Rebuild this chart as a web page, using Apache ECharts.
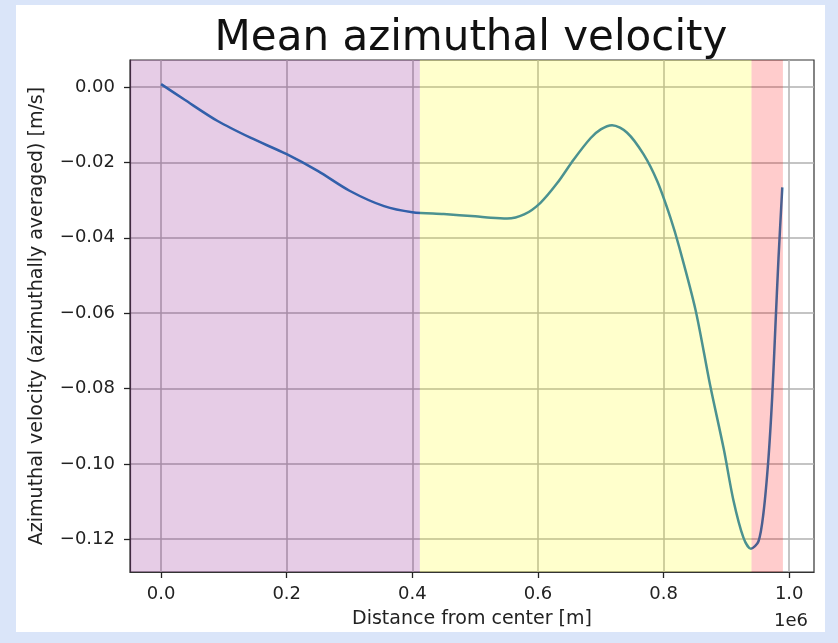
<!DOCTYPE html>
<html>
<head>
<meta charset="utf-8">
<script src="https://cdn.jsdelivr.net/npm/echarts@6/dist/echarts.min.js"></script>
<style>
  html, body { margin: 0; padding: 0; background: #dae5f9; }
  #panel { position: absolute; left: 16px; top: 5px; width: 809px; height: 627px; background: #fff; }
  #main { position: absolute; left: 0; top: 0; width: 838px; height: 643px; }
</style>
</head>
<body>
<div id="panel"></div>
<div id="main"></div>
<script>
// distance from center, in units of 1e6 m
var dist = [0.000, 0.037, 0.090, 0.143, 0.200, 0.250, 0.300, 0.355, 0.400, 0.450,
            0.500, 0.525, 0.551, 0.578, 0.604, 0.631, 0.657, 0.684, 0.700, 0.718,
            0.742, 0.768, 0.790, 0.811, 0.825, 0.851, 0.874, 0.896, 0.911, 0.927,
            0.939, 0.951, 0.959, 0.967, 0.973, 0.978, 0.983, 0.989];
// mean azimuthal velocity [m/s]
var vel = [0.0008, -0.0033, -0.0090, -0.0135, -0.0178, -0.0223, -0.0275, -0.0316, -0.0332, -0.0337,
           -0.0343, -0.0347, -0.0349, -0.0338, -0.0307, -0.0254, -0.0192, -0.0135, -0.0112, -0.0101,
           -0.0121, -0.0178, -0.0250, -0.0347, -0.0425, -0.0592, -0.0790, -0.0962, -0.1095, -0.1195,
           -0.1225, -0.1206, -0.1131, -0.0985, -0.0821, -0.0637, -0.0454, -0.0266];

var xTicks = [0.0, 0.2, 0.4, 0.6, 0.8, 1.0];
var yTicks = [0.00, -0.02, -0.04, -0.06, -0.08, -0.10, -0.12];

// shaded regions
var bandEdges = [-0.0495, 0.412, 0.94, 0.99];
var bandColors = ['rgba(128,0,128,0.2)', 'rgba(255,255,0,0.2)', 'rgba(255,0,0,0.2)'];

var myChart = echarts.init(document.getElementById('main'));

var lineData = dist.map(function(d, i){ return [d, vel[i]]; });
var areas = [];
for (var i = 0; i < bandColors.length; i++) {
    areas.push([{xAxis: bandEdges[i], itemStyle: {color: bandColors[i]}}, {xAxis: bandEdges[i + 1]}]);
}

function minus(s){ return s.replace('-', '\u2212'); }

var txt = '#222';
var option = {
    animation: false,
    backgroundColor: 'transparent',
    textStyle: {fontFamily: 'DejaVu Sans'},
    grid: {
        left: 130, right: 24, top: 60, bottom: 71,
        show: true, borderColor: '#333', borderWidth: 1.2,
        backgroundColor: '#fff'
    },
    graphic: [
        {type: 'text', x: 471, y: 39, style: {text: 'Mean azimuthal velocity', align: 'center', verticalAlign: 'middle',
            font: '42px "DejaVu Sans"', fill: '#111'}},
        {type: 'text', x: 791, y: 621, style: {text: '1e6', align: 'center', verticalAlign: 'middle',
            font: '18px "DejaVu Sans"', fill: txt}}
    ],
    xAxis: {
        type: 'value', min: -0.0495, max: 1.0395,
        name: 'Distance from center [m]', nameLocation: 'middle', nameGap: 38,
        nameTextStyle: {fontSize: 19, color: txt},
        axisLine: {show: true, onZero: false, lineStyle: {color: '#333', width: 1.2}},
        axisTick: {show: true, customValues: xTicks, length: 6, lineStyle: {color: txt, width: 1.3}},
        axisLabel: {customValues: xTicks, fontSize: 18, color: txt, margin: 13,
            formatter: function(v){ return minus(v.toFixed(1)); }},
        splitLine: {show: true, lineStyle: {color: '#b0b0b0', width: 1.5}}
    },
    yAxis: {
        type: 'value', min: -0.1287, max: 0.0072,
        name: 'Azimuthal velocity (azimuthally averaged) [m/s]', nameLocation: 'middle', nameGap: 83,
        nameTextStyle: {fontSize: 19, color: txt},
        axisLine: {show: true, onZero: false, lineStyle: {color: '#333', width: 1.2}},
        axisTick: {show: true, customValues: yTicks, length: 6, lineStyle: {color: txt, width: 1.3}},
        axisLabel: {customValues: yTicks, fontSize: 18, color: txt, margin: 15,
            formatter: function(v){ return minus(v.toFixed(2)); }},
        splitLine: {show: true, lineStyle: {color: '#b0b0b0', width: 1.5}}
    },
    series: [
        {
            type: 'line', data: lineData, symbol: 'none', smooth: 0.3, z: 2,
            lineStyle: {color: '#1f77b4', width: 2.5}
        },
        {
            type: 'line', data: [], z: 5, silent: true,
            markArea: {silent: true, z: 10, data: areas}
        }
    ]
};
myChart.setOption(option);
</script>
</body>
</html>
